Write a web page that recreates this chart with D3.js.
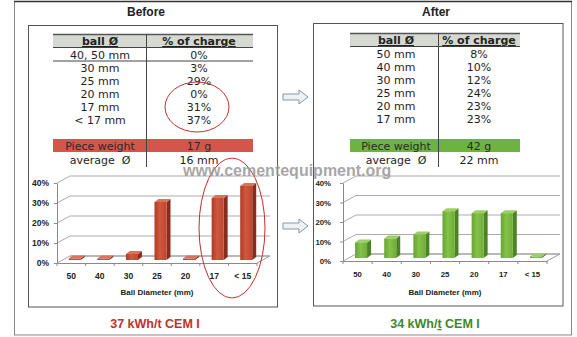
<!DOCTYPE html>
<html>
<head>
<meta charset="utf-8">
<script src="https://cdn.jsdelivr.net/npm/d3@7"></script>
<style>
  body { margin: 0; background: #fff; }
  svg { display: block; }
  text { white-space: pre; }
</style>
</head>
<body>
<svg id="chart" width="577" height="337"></svg>
<script>
// Ball charge grading of the mill, before and after re-grading
const categories = ["50", "40", "30", "25", "20", "17", "< 15"];
const beforeValues = [0, 0, 3, 29, 0, 31, 37];
const afterValues = [8, 10, 12, 24, 23, 23, 0];
const yTicks = [0, 10, 20, 30, 40];

const beforeSizes = ["40, 50 mm", "30 mm", "25 mm", "20 mm", "17 mm", "< 17 mm"];
const beforeCharge = [0, 3, 29, 0, 31, 37];
const afterSizes = ["50 mm", "40 mm", "30 mm", "25 mm", "20 mm", "17 mm"];
const afterCharge = [8, 10, 12, 24, 23, 23];

const pieceWeight = ["17 g", "42 g"];
const averageDiameter = ["16 mm", "22 mm"];
const panelTitles = ["Before", "After"];
const energyLabels = ["37 kWh/t CEM I", "34 kWh/t CEM I"];

const svg = d3.select("#chart");
const FONT = "'DejaVu Sans', Verdana, sans-serif";
const FONT2 = "'Liberation Sans', Arial, sans-serif";

// shading for the bar fronts
const defs = svg.append("defs");
function barGradient(id, dark, mid, light) {
  const gr = defs.append("linearGradient").attr("id", id).attr("x1", 0).attr("x2", 1).attr("y1", 0).attr("y2", 0);
  gr.append("stop").attr("offset", "0%").attr("stop-color", dark);
  gr.append("stop").attr("offset", "45%").attr("stop-color", light);
  gr.append("stop").attr("offset", "100%").attr("stop-color", mid);
}
barGradient("redFront", "#b23a26", "#bf4630", "#cf5840");
barGradient("greenFront", "#66a530", "#70ae38", "#84c24a");

// outer frame
svg.append("rect").attr("x", 14.5).attr("y", 1.5).attr("width", 557).attr("height", 333.5)
  .attr("fill", "none").attr("stroke", "#888").attr("stroke-width", 1);
svg.append("line").attr("x1", 14).attr("x2", 572).attr("y1", 1.5).attr("y2", 1.5)
  .attr("stroke", "#333").attr("stroke-width", 1.5);

const panels = [
  {
    title: panelTitles[0], titleX: 146, box: [28.5, 25.5, 249, 281.5],
    header: [53, 253], colX: [100, 199], divX: 146.5, headerTop: 34,
    sizes: beforeSizes, charge: beforeCharge, rowLine: true,
    weight: pieceWeight[0], avg: averageDiameter[0],
    bandColor: "#d4564a",
    energy: energyLabels[0], energyX: 155, energyColor: "#c4302a",
    chart: { values: beforeValues, x0: 57, x1: 257, yBase: 263, yTop: 183, labelSize: 8.5, pad: 5,
             front: "url(#redFront)", side: "#8a2c1c", top: "#d9735c" }
  },
  {
    title: panelTitles[1], titleX: 436, box: [313.5, 23.5, 249.5, 282.5],
    header: [350, 520], colX: [396, 479], divX: 438.5, headerTop: 33,
    sizes: afterSizes, charge: afterCharge, rowLine: false,
    weight: pieceWeight[1], avg: averageDiameter[1],
    bandColor: "#6db33f",
    energy: energyLabels[1], energyX: 435, energyColor: "#3f8a22",
    chart: { values: afterValues, x0: 343, x1: 547, yBase: 261, yTop: 183, labelSize: 7.8, pad: 9,
             front: "url(#greenFront)", side: "#4b8424", top: "#9dcf64" }
  }
];

panels.forEach((p, pi) => {
  const g = svg.append("g");

  // panel title
  g.append("text").attr("x", p.titleX).attr("y", 16).attr("text-anchor", "middle")
    .attr("font-family", FONT2).attr("font-weight", "bold").attr("font-size", 12).attr("fill", "#222")
    .text(p.title);

  // inner box
  g.append("rect").attr("x", p.box[0]).attr("y", p.box[1]).attr("width", p.box[2]).attr("height", p.box[3])
    .attr("fill", "none").attr("stroke", "#555").attr("stroke-width", 1);

  // ---- table ----
  const ht = p.headerTop;
  g.append("rect").attr("x", p.header[0]).attr("y", ht).attr("width", p.header[1] - p.header[0]).attr("height", 13)
    .attr("fill", "#d6d9d2");
  g.append("line").attr("x1", p.header[0]).attr("x2", p.header[1]).attr("y1", ht + 0.5).attr("y2", ht + 0.5)
    .attr("stroke", "#555").attr("stroke-width", 1.5);
  g.append("line").attr("x1", p.header[0]).attr("x2", p.header[1]).attr("y1", ht + 13.5).attr("y2", ht + 13.5)
    .attr("stroke", "#444").attr("stroke-width", 1);

  const headerText = ["ball \u00d8", "% of charge"];
  headerText.forEach((t, i) => {
    g.append("text").attr("x", p.colX[i]).attr("y", ht + 11).attr("text-anchor", "middle")
      .attr("font-family", FONT).attr("font-weight", "bold").attr("font-size", 11)
      .attr("text-decoration", "underline").attr("fill", "#222").text(t);
  });

  const rowY = d3.scaleLinear().domain([0, 1]).range([ht + 24.5, ht + 37.5]);
  p.sizes.forEach((s, i) => {
    g.append("text").attr("x", p.colX[0]).attr("y", rowY(i)).attr("text-anchor", "middle")
      .attr("font-family", FONT).attr("font-size", 11).attr("fill", "#1e1e1e").text(s);
    g.append("text").attr("x", p.colX[1]).attr("y", rowY(i)).attr("text-anchor", "middle")
      .attr("font-family", FONT).attr("font-size", 11).attr("fill", "#1e1e1e").text(p.charge[i] + "%");
  });
  if (p.rowLine) {
    g.append("line").attr("x1", p.header[0]).attr("x2", p.header[1]).attr("y1", 61).attr("y2", 61)
      .attr("stroke", "#444").attr("stroke-width", 1);
  }

  // piece weight band
  g.append("rect").attr("x", p.header[0]).attr("y", 139).attr("width", p.header[1] - p.header[0]).attr("height", 13)
    .attr("fill", p.bandColor);
  g.append("text").attr("x", p.colX[0]).attr("y", 150).attr("text-anchor", "middle")
    .attr("font-family", FONT).attr("font-size", 11).attr("fill", "#2a2a2a").text("Piece weight");
  g.append("text").attr("x", p.colX[1]).attr("y", 150).attr("text-anchor", "middle")
    .attr("font-family", FONT).attr("font-size", 11).attr("fill", "#2a2a2a").text(p.weight);
  g.append("text").attr("x", p.colX[0]).attr("y", 164).attr("text-anchor", "middle")
    .attr("font-family", FONT).attr("font-size", 11).attr("fill", "#1e1e1e").text("average  \u00d8");
  g.append("text").attr("x", p.colX[1]).attr("y", 164).attr("text-anchor", "middle")
    .attr("font-family", FONT).attr("font-size", 11).attr("fill", "#1e1e1e").text(p.avg);

  // column divider
  g.append("line").attr("x1", p.divX).attr("x2", p.divX).attr("y1", ht).attr("y2", 167)
    .attr("stroke", "#444").attr("stroke-width", 1);

  // ---- 3D column chart ----
  const c = p.chart;
  const dx = 13, dy = -7;        // wall depth
  const bdx = 4, bdy = -3;       // bar depth
  const offX = 3.5, offY = -3;   // bar row position inside the floor
  const barW = 12;

  const x = d3.scaleBand().domain(categories).range([c.x0, c.x1]);
  const y = d3.scaleLinear().domain([0, 40]).range([c.yBase, c.yTop]);
  const cg = g.append("g");

  // side wall diagonals + back wall gridlines
  yTicks.forEach(t => {
    cg.append("path")
      .attr("d", `M${c.x0},${y(t)} L${c.x0 + dx},${y(t) + dy} L${c.x1 + dx},${y(t) + dy}`)
      .attr("fill", "none").attr("stroke", "#ababab").attr("stroke-width", 1);
  });

  // floor
  const y0 = y(0);
  cg.append("path")
    .attr("d", `M${c.x1},${y0} L${c.x1 + dx},${y0 + dy} L${c.x0 + dx},${y0 + dy}`)
    .attr("fill", "none").attr("stroke", "#9a9a9a").attr("stroke-width", 1);

  // vertical axis on the front edge of the side wall
  const yAxis = d3.axisLeft(y).tickValues(yTicks).tickFormat(d => d + "%")
    .tickSize(3).tickSizeOuter(0).tickPadding(c.pad);
  const ya = cg.append("g").attr("transform", `translate(${c.x0},0)`).call(yAxis);
  ya.select(".domain").attr("stroke", "#8a8a8a");
  ya.selectAll(".tick line").attr("stroke", "#8a8a8a");
  ya.selectAll(".tick text").attr("font-family", FONT2).attr("font-weight", "bold")
    .attr("font-size", c.labelSize).attr("fill", "#222");

  // category axis along the front floor edge
  const xAxis = d3.axisBottom(x).tickSize(0).tickSizeOuter(0).tickPadding(10);
  const xa = cg.append("g").attr("transform", `translate(0,${y0})`).call(xAxis);
  xa.select(".domain").attr("stroke", "#8a8a8a");
  xa.selectAll(".tick text").attr("font-family", FONT2).attr("font-weight", "bold")
    .attr("font-size", c.labelSize).attr("fill", "#222");
  // tick marks between categories
  const bounds = categories.map(d => x(d)).concat([c.x1]);
  cg.selectAll("line.bt").data(bounds).join("line").attr("class", "bt")
    .attr("x1", d => d).attr("x2", d => d).attr("y1", y0).attr("y2", y0 + 3)
    .attr("stroke", "#8a8a8a");

  cg.append("text").attr("x", (c.x0 + c.x1) / 2).attr("y", 295).attr("text-anchor", "middle")
    .attr("font-family", FONT2).attr("font-weight", "bold").attr("font-size", 8).attr("fill", "#222")
    .text("Ball Diameter (mm)");

  // bars
  const bars = cg.selectAll("g.bar").data(c.values.map((v, i) => ({ v, cat: categories[i] })))
    .join("g").attr("class", "bar");
  bars.each(function (d) {
    const b = d3.select(this);
    const cx = x(d.cat) + x.bandwidth() / 2 + offX;
    const xl = cx - barW / 2, xr = cx + barW / 2;
    const yb = y(0) + offY;
    const yt = Math.min(y(d.v) + offY, yb - 1.5);
    b.append("path")
      .attr("d", `M${xr},${yt} L${xr + bdx},${yt + bdy} L${xr + bdx},${yb + bdy} L${xr},${yb}Z`)
      .attr("fill", c.side);
    b.append("path")
      .attr("d", `M${xl},${yt} L${xr},${yt} L${xr + bdx},${yt + bdy} L${xl + bdx},${yt + bdy}Z`)
      .attr("fill", c.top);
    b.append("rect").attr("x", xl).attr("y", yt).attr("width", barW).attr("height", yb - yt)
      .attr("fill", c.front);
  });

  // energy consumption label
  const et = g.append("text").attr("x", p.energyX).attr("y", 328).attr("text-anchor", "middle")
    .attr("font-family", FONT2).attr("font-weight", "bold").attr("font-size", 12.5).attr("fill", p.energyColor);
  if (pi === 1) {
    const parts = p.energy.split("/t");
    et.append("tspan").text(parts[0] + "/");
    et.append("tspan").attr("text-decoration", "underline").text("t");
    et.append("tspan").text(parts[1]);
  } else {
    et.text(p.energy);
  }
});

// arrows between the panels
[97, 226].forEach(cy => {
  svg.append("path")
    .attr("d", `M283,${cy - 3} L299,${cy - 3} L299,${cy - 7} L308,${cy} L299,${cy + 7} L299,${cy + 3} L283,${cy + 3}Z`)
    .attr("fill", "#eef2f4").attr("stroke", "#8597a6").attr("stroke-width", 1);
});

// hand-drawn highlight rings
svg.append("ellipse").attr("cx", 197).attr("cy", 107).attr("rx", 32).attr("ry", 25)
  .attr("fill", "none").attr("stroke", "#c4302a").attr("stroke-width", 1);
svg.append("ellipse").attr("cx", 232).attr("cy", 228).attr("rx", 33).attr("ry", 70)
  .attr("fill", "none").attr("stroke", "#c4302a").attr("stroke-width", 1);

// site mark
svg.append("text").attr("x", 183).attr("y", 176)
  .attr("font-family", FONT2).attr("font-weight", "bold").attr("font-size", 16)
  .attr("fill", "#969696").attr("fill-opacity", 0.85)
  .text("www.cementequipment.org");
</script>
</body>
</html>
